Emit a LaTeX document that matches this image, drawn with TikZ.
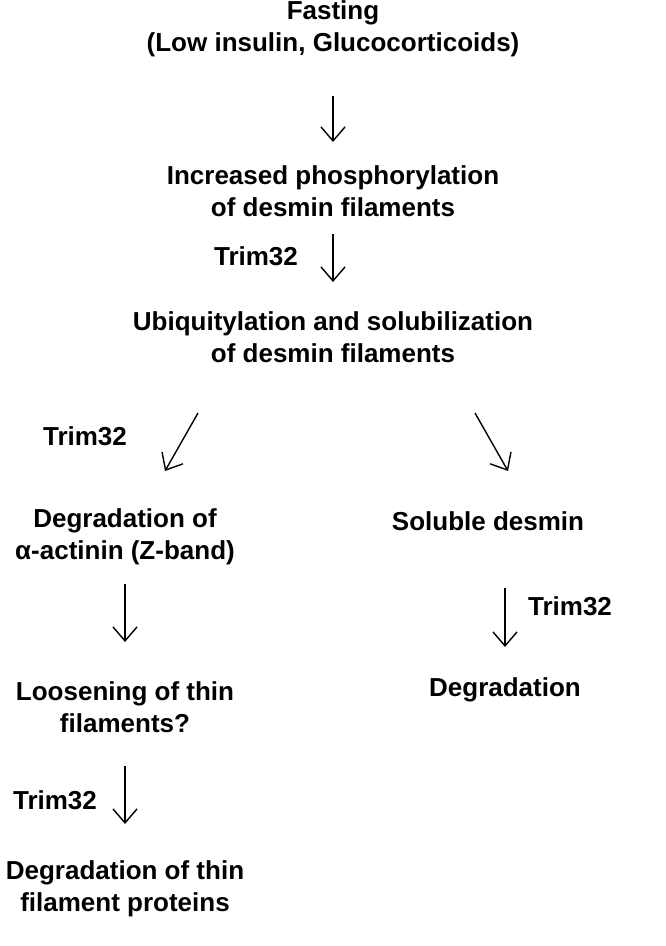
\documentclass[tikz,border=0pt]{standalone}
\usepackage{fontspec}
\setmainfont{Liberation Sans}
\usetikzlibrary{arrows.meta,positioning}
\tikzset{
  stage/.style={font=\fontsize{26}{32}\selectfont\bfseries, align=center, inner sep=0pt},
  lab/.style={font=\fontsize{26}{32}\selectfont\bfseries, inner sep=0pt},
  flow/.style={line width=1.4pt, -{Straight Barb[length=14pt,width=24pt,line width=1.4pt]}}
}
\begin{document}
\begin{tikzpicture}[x=1pt, y=-1pt]
\useasboundingbox (0,0) rectangle (666,946);

\node[stage] (fast) at (333,29) {Fasting\\(Low insulin, Glucocorticoids)};
\node[stage] (phos) at (333,191) {Increased phosphorylation\\of desmin filaments};
\node[stage] (ubiq) at (333,337) {Ubiquitylation and solubilization\\of desmin filaments};
\node[stage] (actin) at (125,537) {Degradation of\\α-actinin (Z-band)};
\node[stage] (sol) at (488,521) {Soluble desmin};
\node[stage] (loose) at (125,707) {Loosening of thin\\filaments?};
\node[stage] (degr) at (505,690) {Degradation};
\node[stage] (thin) at (125,889) {Degradation of thin\\filament proteins};

\coordinate (a1) at (333,96);  \coordinate (b1) at (333,142);
\coordinate (a2) at (333,234); \coordinate (b2) at (333,282);
\coordinate (a3) at (198,413); \coordinate (b3) at (165,471);
\coordinate (a4) at (475,413); \coordinate (b4) at (508,471);
\coordinate (a5) at (125,584); \coordinate (b5) at (125,642);
\coordinate (a6) at (505,588); \coordinate (b6) at (505,647);
\coordinate (a7) at (125,766); \coordinate (b7) at (125,824);

\draw[flow] (a1) -- (b1);
\draw[flow] (a2) -- (b2);
\draw[flow] (a3) -- (b3);
\draw[flow] (a4) -- (b4);
\draw[flow] (a5) -- (b5);
\draw[flow] (a6) -- (b6);
\draw[flow] (a7) -- (b7);

\node[lab] (t1) at (256,256) {Trim32};
\node[lab] (t2) at (85,436) {Trim32};
\node[lab] (t3) at (570,606) {Trim32};
\node[lab] (t4) at (55,800) {Trim32};
\end{tikzpicture}
\end{document}
